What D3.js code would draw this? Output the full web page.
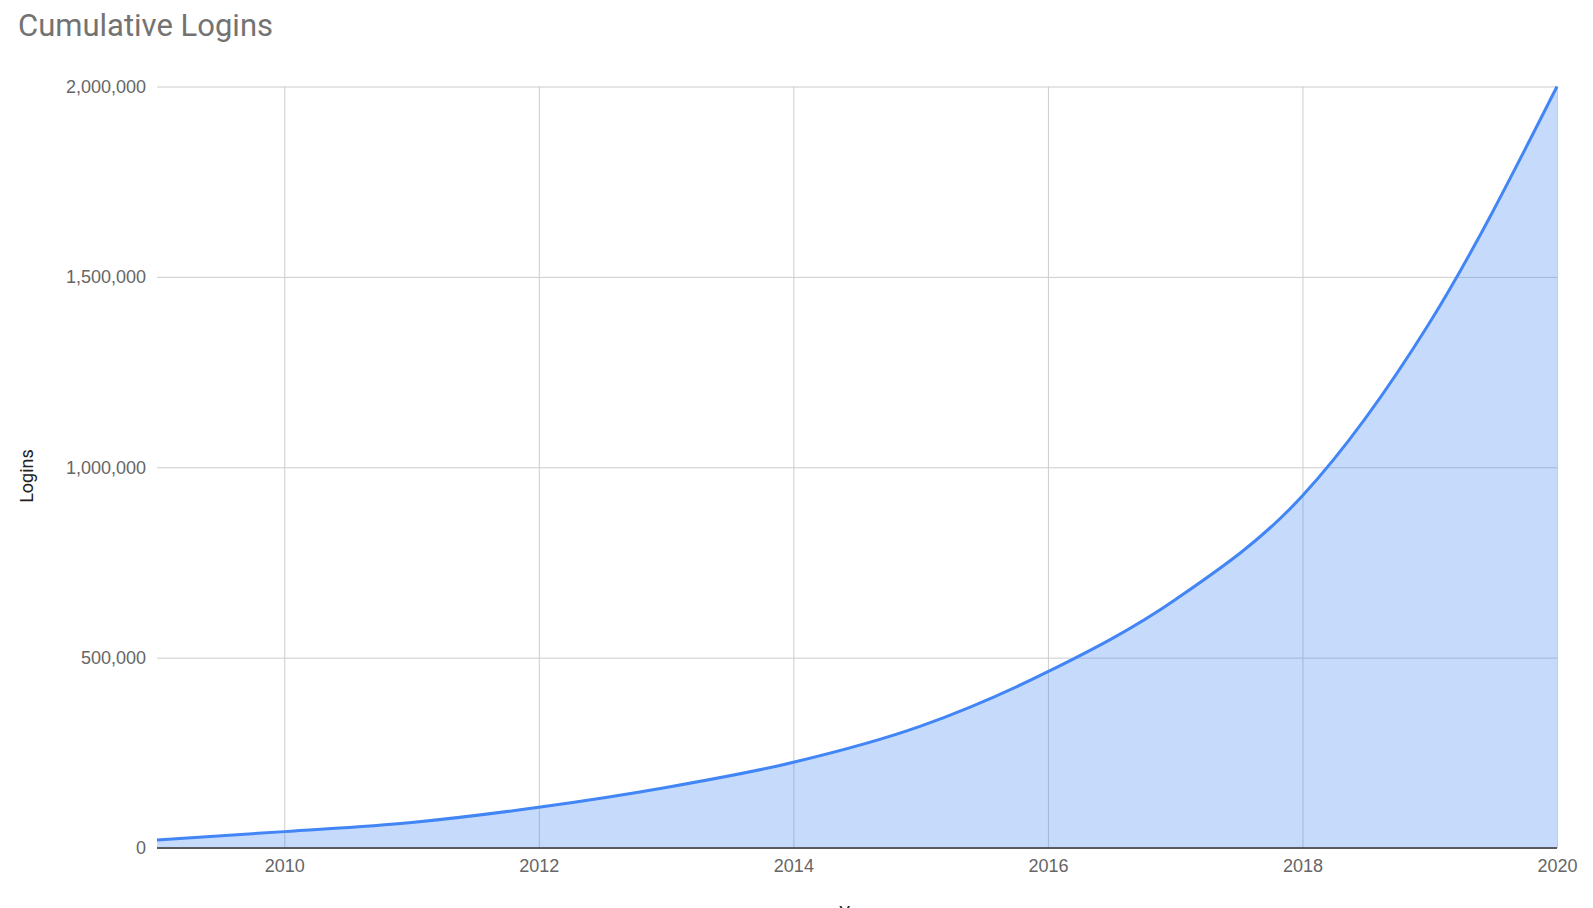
<!DOCTYPE html>
<html>
<head>
<meta charset="utf-8">
<script src="https://cdn.jsdelivr.net/npm/d3@7"></script>
<style>
  body { margin: 0; background: #fff; }
  svg { display: block; font-family: Roboto, "Liberation Sans", Arial, sans-serif; }
</style>
</head>
<body>
<div id="chart"></div>
<script>
const years = [2009, 2010, 2011, 2012, 2013, 2014, 2015, 2016, 2017, 2018, 2019, 2020];
const logins = [21000, 43000, 67000, 107000, 159000, 225000, 320000, 463000, 652000, 925000, 1380000, 2000000];
const yTicks = [0, 500000, 1000000, 1500000, 2000000];
const xTicks = [2010, 2012, 2014, 2016, 2018, 2020];

const width = 1593;
const height = 908;
const margin = { top: 86.5, right: 36, bottom: 60, left: 157 };
const baseY = 848;

const svg = d3.select("#chart")
  .append("svg")
  .attr("width", width)
  .attr("height", height);

const x = d3.scaleLinear()
  .domain([2009, 2020])
  .range([margin.left, width - margin.right]);

const y = d3.scaleLinear()
  .domain([0, 2000000])
  .range([baseY, margin.top]);

const data = years.map((yr, i) => ({ year: yr, value: logins[i] }));

// horizontal grid + y labels
const yAxis = svg.append("g")
  .attr("transform", `translate(${margin.left},0)`)
  .call(d3.axisLeft(y)
    .tickValues(yTicks)
    .tickFormat(d3.format(","))
    .tickSize(-(x.range()[1] - margin.left))
    .tickPadding(11));

yAxis.select(".domain").remove();
yAxis.selectAll(".tick line").attr("stroke", "#cccccc").attr("stroke-width", 1);
yAxis.selectAll(".tick text")
  .attr("fill", "#666666")
  .style("font-size", "18px");

// vertical grid + x labels
const xAxis = svg.append("g")
  .attr("transform", `translate(0,${y(0)})`)
  .call(d3.axisBottom(x)
    .tickValues(xTicks)
    .tickFormat(d3.format("d"))
    .tickSize(-(y(0) - margin.top))
    .tickPadding(11));

xAxis.select(".domain").remove();
xAxis.selectAll(".tick line").attr("stroke", "#cccccc").attr("stroke-width", 1);
xAxis.selectAll(".tick text")
  .attr("fill", "#666666")
  .style("font-size", "18px");

// area
const area = d3.area()
  .x(d => x(d.year))
  .y0(y(0))
  .y1(d => y(d.value))
  .curve(d3.curveMonotoneX);

svg.append("path")
  .datum(data)
  .attr("d", area)
  .attr("fill", "#4285f4")
  .attr("fill-opacity", 0.3);

// baseline
svg.append("line")
  .attr("x1", margin.left)
  .attr("x2", x.range()[1])
  .attr("y1", y(0))
  .attr("y2", y(0))
  .attr("stroke", "#333333")
  .attr("stroke-width", 1.5);

// line
const line = d3.line()
  .x(d => x(d.year))
  .y(d => y(d.value))
  .curve(d3.curveMonotoneX);

svg.append("path")
  .datum(data)
  .attr("d", line)
  .attr("fill", "none")
  .attr("stroke", "#4285f4")
  .attr("stroke-width", 3);

// title
svg.append("text")
  .attr("x", 18)
  .attr("y", 36)
  .attr("fill", "#737373")
  .style("font-size", "31px")
  .text("Cumulative Logins");

// y axis title
svg.append("text")
  .attr("transform", "translate(33,476) rotate(-90)")
  .attr("text-anchor", "middle")
  .attr("fill", "#222222")
  .style("font-size", "18px")
  .text("Logins");

// x axis title, sits at the bottom edge like the reference
svg.append("text")
  .attr("x", (margin.left + x.range()[1]) / 2)
  .attr("y", 919)
  .attr("text-anchor", "middle")
  .attr("fill", "#222222")
  .style("font-size", "18px")
  .text("Year");
</script>
</body>
</html>
